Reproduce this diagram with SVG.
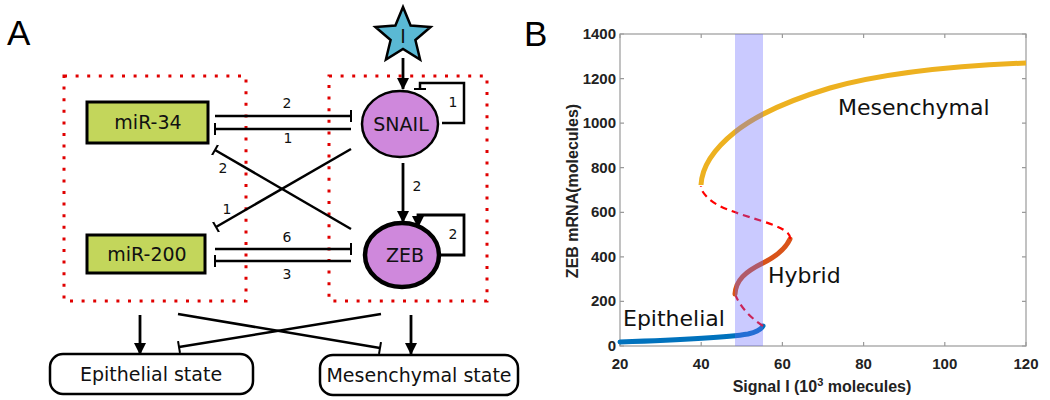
<svg xmlns="http://www.w3.org/2000/svg" width="1050" height="400" viewBox="0 0 1050 400">
<style>
.lbl{font-family:"DejaVu Sans",sans-serif;font-size:19px;fill:#111;text-anchor:middle}
.num{font-family:"DejaVu Sans",sans-serif;font-size:14px;fill:#111;text-anchor:middle}
.pan{font-family:"Liberation Sans",Arial,sans-serif;font-size:35px;fill:#000}
.tick{font-family:"Liberation Sans",Arial,sans-serif;font-size:15px;font-weight:bold;fill:#222}
.axt{font-family:"Liberation Sans",Arial,sans-serif;font-size:16px;font-weight:bold;fill:#222;text-anchor:middle}
.cl{font-family:"DejaVu Sans",sans-serif;font-size:22px;fill:#111}
.inh{stroke:#000;stroke-width:2.5;fill:none;marker-end:url(#tee)}
.act{stroke:#000;stroke-width:2.8;fill:none;marker-end:url(#arr)}
.dot{fill:none;stroke:#e00000;stroke-width:3;stroke-dasharray:3 8.6}
.mir{fill:#c3d65b;stroke:#000;stroke-width:3}
.prot{fill:#cf88dc;stroke:#000}
.state{fill:#fff;stroke:#000;stroke-width:2.5}
.ax{stroke:#9a9a9a;stroke-width:1.2;fill:none}
</style>
<defs>
<marker id="tee" viewBox="0 0 4 12" refX="2" refY="6" markerWidth="4" markerHeight="12" orient="auto" markerUnits="userSpaceOnUse">
<line x1="2" y1="0" x2="2" y2="12" stroke="#000" stroke-width="2"/>
</marker>
<marker id="arr" viewBox="0 0 12 12" refX="11" refY="6" markerWidth="12" markerHeight="12" orient="auto" markerUnits="userSpaceOnUse">
<path d="M0,0 L12,6 L0,12 z" fill="#000"/>
</marker>
</defs>

<!-- Panel A -->
<text class="pan" x="7" y="45">A</text>

<g id="dotbox-left"><rect class="dot" x="64" y="76" width="182" height="225"/></g>
<g id="dotbox-right"><rect class="dot" x="329" y="76" width="158" height="225"/></g>

<g id="connectors">
<line class="act" x1="403" y1="58" x2="403" y2="89"/>
<line class="act" x1="403" y1="163" x2="403" y2="222"/>
<path class="inh" d="M442,123 H464 V83 H420 V89"/>
<path class="act" d="M441,255 H464 V215 H418 V227"/>
<line class="inh" x1="215" y1="116" x2="351" y2="116"/>
<line class="inh" x1="351" y1="129" x2="215" y2="129"/>
<line class="inh" x1="351" y1="229" x2="215" y2="150"/>
<line class="inh" x1="351" y1="149" x2="216" y2="227"/>
<line class="inh" x1="215" y1="249" x2="351" y2="249"/>
<line class="inh" x1="351" y1="261" x2="215" y2="261"/>
<line class="act" x1="140" y1="315" x2="140" y2="354"/>
<line class="act" x1="411" y1="315" x2="411" y2="354"/>
<line class="inh" x1="178" y1="314" x2="380" y2="348"/>
<line class="inh" x1="381" y1="314" x2="179" y2="347"/>
<text class="num" x="287" y="108">2</text>
<text class="num" x="288" y="143">1</text>
<text class="num" x="223" y="173">2</text>
<text class="num" x="227" y="214">1</text>
<text class="num" x="287" y="242">6</text>
<text class="num" x="287" y="279">3</text>
<text class="num" x="453" y="107">1</text>
<text class="num" x="417" y="191">2</text>
<text class="num" x="453" y="239">2</text>
</g>

<g id="node-I">
<polygon points="403,7 410.6,25.5 430.6,27 415.4,40 420.1,59.5 403,49 385.9,59.5 390.6,40 375.4,27 395.4,25.5" fill="#5ab9d4" stroke="#000" stroke-width="2.5" stroke-linejoin="miter"/>
<text class="lbl" x="403" y="43">I</text>
</g>
<g id="node-SNAIL">
<ellipse class="prot" cx="400" cy="124" rx="38" ry="33" stroke-width="2.5"/>
<text class="lbl" x="401" y="131">SNAIL</text>
</g>
<g id="node-ZEB">
<ellipse class="prot" cx="402" cy="255" rx="37" ry="32" stroke-width="4.5"/>
<text class="lbl" x="405" y="262">ZEB</text>
</g>
<g id="node-miR34">
<rect class="mir" x="87" y="102" width="121" height="41"/>
<text class="lbl" x="148" y="129">miR-34</text>
</g>
<g id="node-miR200">
<rect class="mir" x="87" y="235" width="118" height="38"/>
<text class="lbl" x="147" y="261">miR-200</text>
</g>
<g id="node-epi">
<rect class="state" x="50" y="354" width="203" height="40" rx="13"/>
<text class="lbl" x="151" y="381">Epithelial state</text>
</g>
<g id="node-mes">
<rect class="state" x="320" y="355" width="198" height="40" rx="13"/>
<text class="lbl" x="419" y="382">Mesenchymal state</text>
</g>

<!-- Panel B -->
<text class="pan" x="524" y="46">B</text>
<g id="plot">
<rect x="620" y="34" width="406" height="312" fill="#fff" class="ax"/>
<path class="ax" d="M620,34v4 M701.2,34v4 M782.4,34v4 M863.6,34v4 M944.8,34v4 M1026,34v4
M620,346v-4 M701.2,346v-4 M782.4,346v-4 M863.6,346v-4 M944.8,346v-4 M1026,346v-4
M620,346h4 M620,301.4h4 M620,256.9h4 M620,212.3h4 M620,167.7h4 M620,123.1h4 M620,78.6h4 M620,34h4
M1026,346h-4 M1026,301.4h-4 M1026,256.9h-4 M1026,212.3h-4 M1026,167.7h-4 M1026,123.1h-4 M1026,78.6h-4 M1026,34h-4"/>
<g class="tick" text-anchor="middle">
<text x="620" y="369">20</text><text x="701.2" y="369">40</text><text x="782.4" y="369">60</text>
<text x="863.6" y="369">80</text><text x="944.8" y="369">100</text><text x="1026" y="369">120</text>
</g>
<g class="tick" text-anchor="end">
<text x="616" y="351">0</text><text x="616" y="306.4">200</text><text x="616" y="261.9">400</text>
<text x="616" y="217.3">600</text><text x="616" y="172.7">800</text><text x="616" y="128.1">1000</text>
<text x="616" y="83.6">1200</text><text x="616" y="39">1400</text>
</g>
<text class="axt" x="822" y="392">Signal I (10<tspan dy="-6" font-size="11">3</tspan><tspan dy="6"> molecules)</tspan></text>
<text class="axt" transform="translate(578,191) rotate(-90)">ZEB mRNA(molecules)</text>

<path d="M620,342 C680,340 730,337 748,334 C756,332 761,330 763,326" fill="none" stroke="#0072bd" stroke-width="5" stroke-linecap="round"/>
<path d="M763,326 Q742,312 735,294" fill="none" stroke="#ff0000" stroke-width="2.2" stroke-dasharray="7 5"/>
<path d="M735,294 C736,280 745,272 763,263 C775,257 785,250 790,239" fill="none" stroke="#d95319" stroke-width="5" stroke-linecap="round"/>
<path d="M790,239 C791,232 780,227 765,222 C740,214 718,208 708,198 C703,193 701,190 701,186" fill="none" stroke="#ff0000" stroke-width="2.2" stroke-dasharray="7 5"/>
<path d="M701,185 C702,165 715,148 735,132 C755,116 790,100 830,88 C880,74 950,66 1026,63" fill="none" stroke="#edb120" stroke-width="5"/>
<rect x="735" y="34" width="28" height="312" fill="#6666ff" fill-opacity="0.35"/>

<text class="cl" x="838" y="115">Mesenchymal</text>
<text class="cl" x="768" y="283">Hybrid</text>
<text class="cl" x="623" y="326">Epithelial</text>
</g>
</svg>
